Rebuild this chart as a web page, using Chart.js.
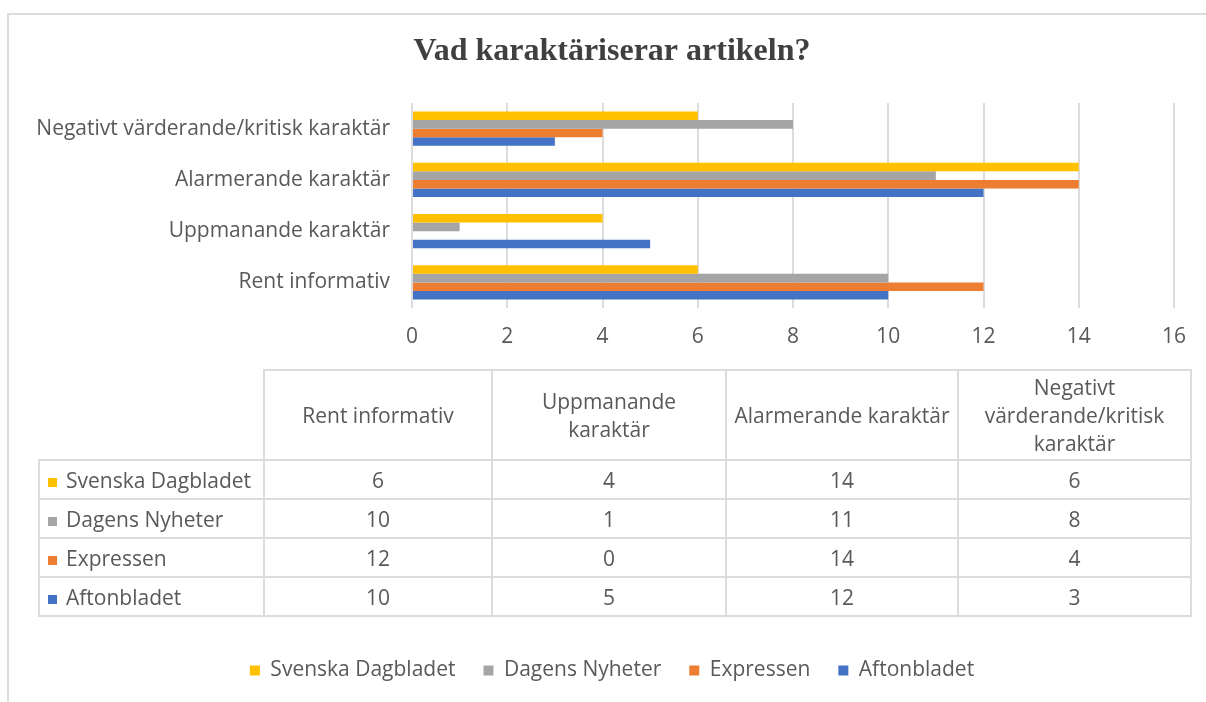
<!DOCTYPE html>
<html><head><meta charset="utf-8">
<script src="https://cdn.jsdelivr.net/npm/chart.js@4.4.0/dist/chart.umd.min.js"></script>
<style>
html,body{margin:0;padding:0;background:#fff;width:1206px;height:702px;overflow:hidden;position:relative}
#frame{position:absolute;left:7px;top:13px;width:1300px;height:800px;border:2px solid #dcdcdc;box-sizing:border-box}
#wrap{position:absolute;left:8px;top:14px;width:1208px;height:688px}
#tbl{position:absolute;left:38px;top:369px;border-collapse:collapse;table-layout:fixed;font-family:"Open Sans",sans-serif;font-size:21px;color:#595959;line-height:28px}
#tbl td{border:2px solid #dcdcdc;text-align:center;padding:0;vertical-align:middle;white-space:nowrap}
#tbl td.empty{border-top:none;border-left:none}
#tbl td.name{text-align:left;padding-left:8px}
#tbl .sw{display:inline-block;width:9px;height:9px;margin-right:9px;vertical-align:1px}
</style>
</head><body>
<div id="frame"></div>
<div id="wrap"><canvas id="c"></canvas></div>
<table id="tbl"></table>
<script>
const categories = ['Rent informativ', 'Uppmanande karaktär', 'Alarmerande karaktär', 'Negativt värderande/kritisk karaktär'];
const headerLines = [['Rent informativ'], ['Uppmanande', 'karaktär'], ['Alarmerande karaktär'], ['Negativt', 'värderande/kritisk', 'karaktär']];
const seriesNames = ['Svenska Dagbladet', 'Dagens Nyheter', 'Expressen', 'Aftonbladet'];
const svenskaDagbladet = [6, 4, 14, 6];
const dagensNyheter = [10, 1, 11, 8];
const expressen = [12, 0, 14, 4];
const aftonbladet = [10, 5, 12, 3];
const xTicks = [0, 2, 4, 6, 8, 10, 12, 14, 16];
const seriesColors = ['#FFC000', '#A5A5A5', '#ED7D31', '#4472C4'];
const titleText = 'Vad karaktäriserar artikeln?';

const seriesValues = [svenskaDagbladet, dagensNyheter, expressen, aftonbladet];

// data table (HTML, built from the arrays)
const tbl = document.getElementById('tbl');
const colWidths = [225, 228, 234, 232, 233];
const cg = document.createElement('colgroup');
colWidths.forEach(w => { const c = document.createElement('col'); c.style.width = w + 'px'; cg.appendChild(c); });
tbl.appendChild(cg);
const hr = document.createElement('tr'); hr.style.height = '90px';
const e = document.createElement('td'); e.className = 'empty'; hr.appendChild(e);
headerLines.forEach(lines => { const td = document.createElement('td'); td.innerHTML = lines.join('<br>'); hr.appendChild(td); });
tbl.appendChild(hr);
seriesNames.forEach((name, si) => {
  const tr = document.createElement('tr'); tr.style.height = '39px';
  const nt = document.createElement('td'); nt.className = 'name';
  const sw = document.createElement('span'); sw.className = 'sw'; sw.style.background = seriesColors[si];
  nt.appendChild(sw); nt.appendChild(document.createTextNode(name));
  tr.appendChild(nt);
  seriesValues[si].forEach(v => { const td = document.createElement('td'); td.textContent = v; tr.appendChild(td); });
  tbl.appendChild(tr);
});

Chart.defaults.font.family = '"Open Sans", sans-serif';
Chart.defaults.font.size = 21;
Chart.defaults.color = '#595959';

new Chart(document.getElementById('c'), {
  type: 'bar',
  data: {
    labels: categories,
    datasets: seriesNames.map((n, i) => ({
      label: n,
      data: seriesValues[i],
      backgroundColor: seriesColors[i],
      borderWidth: 0,
      categoryPercentage: 0.67,
      barPercentage: 1.0
    }))
  },
  options: {
    indexAxis: 'y',
    responsive: true,
    maintainAspectRatio: false,
    animation: false,
    layout: { padding: { left: 0, right: 0, top: 0, bottom: 11 } },
    plugins: {
      title: {
        display: true,
        text: titleText,
        color: '#404040',
        font: { family: '"Liberation Serif", serif', size: 32, weight: 'bold', lineHeight: 1.2 },
        padding: { top: 18.8, bottom: 31.8 }
      },
      legend: {
        position: 'bottom',
        labels: { boxWidth: 10, boxHeight: 10, padding: 28, font: { size: 21 }, color: '#595959' }
      },
      tooltip: { enabled: false }
    },
    scales: {
      x: {
        type: 'linear',
        min: 0, max: 16,
        afterBuildTicks: s => { s.ticks = xTicks.map(v => ({ value: v })); },
        afterFit: s => { s.height = 324; s.paddingRight = 42; },
        grid: { color: '#dcdcdc', lineWidth: 2, drawTicks: false },
        border: { display: false },
        ticks: { padding: 16, color: '#595959' }
      },
      y: {
        reverse: true,
        afterFit: s => { s.width = 404; },
        grid: { display: false, drawTicks: false },
        border: { display: false },
        ticks: { padding: 22, color: '#595959' }
      }
    }
  }
});
</script>
</body></html>
